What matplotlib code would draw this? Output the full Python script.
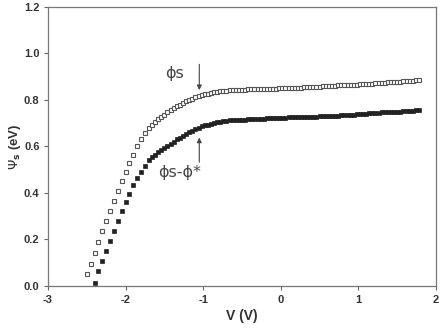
import matplotlib
matplotlib.use("Agg")
import matplotlib.pyplot as plt

# bias sweep, coarse part (V) and dense part (V)
v_low = [-2.50, -2.45, -2.40, -2.35, -2.30, -2.25, -2.20, -2.15, -2.10, -2.05,
         -2.00, -1.95, -1.90, -1.85, -1.80, -1.75]
v_high = [-1.70, -1.66, -1.62, -1.58, -1.54, -1.50, -1.46, -1.42, -1.38, -1.34,
          -1.30, -1.26, -1.22, -1.18, -1.14, -1.10, -1.06, -1.02, -0.98, -0.94,
          -0.90, -0.86, -0.82, -0.78, -0.74, -0.70, -0.66, -0.62, -0.58, -0.54,
          -0.50, -0.46, -0.42, -0.38, -0.34, -0.30, -0.26, -0.22, -0.18, -0.14,
          -0.10, -0.06, -0.02, 0.02, 0.06, 0.10, 0.14, 0.18, 0.22, 0.26,
          0.30, 0.34, 0.38, 0.42, 0.46, 0.50, 0.54, 0.58, 0.62, 0.66,
          0.70, 0.74, 0.78, 0.82, 0.86, 0.90, 0.94, 0.98, 1.02, 1.06,
          1.10, 1.14, 1.18, 1.22, 1.26, 1.30, 1.34, 1.38, 1.42, 1.46,
          1.50, 1.54, 1.58, 1.62, 1.66, 1.70, 1.74, 1.78]

# phi_s (open squares)
phis_low = [0.050, 0.095, 0.142, 0.189, 0.237, 0.280, 0.324, 0.366, 0.409, 0.450,
            0.490, 0.530, 0.563, 0.600, 0.632, 0.656]
phis_high = [0.680, 0.692, 0.704, 0.716, 0.727, 0.737, 0.746, 0.755, 0.764, 0.772,
             0.780, 0.787, 0.794, 0.800, 0.806, 0.811, 0.816, 0.820, 0.824, 0.827,
             0.830, 0.832, 0.835, 0.837, 0.839, 0.840, 0.841, 0.842, 0.842, 0.843,
             0.843, 0.844, 0.845, 0.846, 0.846, 0.846, 0.847, 0.847, 0.848, 0.848,
             0.849, 0.849, 0.850, 0.850, 0.850, 0.851, 0.852, 0.852, 0.853, 0.853,
             0.854, 0.855, 0.855, 0.856, 0.857, 0.857, 0.858, 0.859, 0.860, 0.860,
             0.861, 0.862, 0.862, 0.863, 0.864, 0.865, 0.866, 0.866, 0.867, 0.868,
             0.869, 0.869, 0.870, 0.871, 0.872, 0.873, 0.874, 0.875, 0.876, 0.877,
             0.878, 0.879, 0.880, 0.881, 0.882, 0.883, 0.884, 0.886]

# phi_s - phi* (filled squares), starts at -2.40 V
phid_low = [0.014, 0.062, 0.105, 0.152, 0.195, 0.238, 0.281, 0.324, 0.363, 0.397,
            0.436, 0.466, 0.492, 0.517]
phid_high = [0.540, 0.553, 0.564, 0.574, 0.584, 0.594, 0.603, 0.612, 0.621, 0.630,
             0.638, 0.646, 0.654, 0.661, 0.668, 0.674, 0.680, 0.686, 0.690, 0.694,
             0.698, 0.702, 0.705, 0.707, 0.709, 0.711, 0.712, 0.713, 0.713, 0.714,
             0.714, 0.715, 0.716, 0.717, 0.718, 0.719, 0.720, 0.720, 0.721, 0.722,
             0.722, 0.723, 0.723, 0.724, 0.724, 0.725, 0.726, 0.726, 0.727, 0.727,
             0.727, 0.728, 0.728, 0.728, 0.728, 0.729, 0.729, 0.729, 0.730, 0.730,
             0.731, 0.732, 0.733, 0.734, 0.735, 0.736, 0.737, 0.738, 0.739, 0.740,
             0.741, 0.742, 0.743, 0.744, 0.745, 0.746, 0.747, 0.747, 0.748, 0.749,
             0.750, 0.750, 0.751, 0.752, 0.753, 0.754, 0.755, 0.757]

v_open = v_low + v_high
y_open = phis_low + phis_high
v_fill = v_low[2:] + v_high
y_fill = phid_low + phid_high

plt.rcParams['font.family'] = ['Liberation Sans', 'DejaVu Sans']
plt.rcParams['axes.unicode_minus'] = False
txt = '#333333'
edge = '#555555'

fig = plt.figure(figsize=(4.44, 3.29), dpi=100)
ax = fig.add_axes([0.108, 0.131, 0.874, 0.848])

ax.plot(v_open, y_open, 's', ms=3.3, mfc='white', mec=edge, mew=0.8, ls='None')
ax.plot(v_fill, y_fill, 's', ms=3.3, mfc='#222222', mec='#222222', mew=0.5, ls='None')

# arrows and labels
ax.annotate('', xy=(-1.05, 0.830), xytext=(-1.05, 0.965),
            arrowprops=dict(arrowstyle='-|>', lw=0.8, color='#444444',
                            mutation_scale=7))
ax.annotate('', xy=(-1.05, 0.650), xytext=(-1.05, 0.520),
            arrowprops=dict(arrowstyle='-|>', lw=0.8, color='#444444',
                            mutation_scale=7))
ax.text(-1.37, 0.912, 'ϕs', fontsize=11.5, color='#444444', ha='center', va='center',
        family=['DejaVu Sans'])
ax.text(-1.30, 0.486, 'ϕs-ϕ*', fontsize=11.5, color='#444444', ha='center', va='center',
        family=['DejaVu Sans'])

ax.set_xlim(-3, 2)
ax.set_ylim(0, 1.2)
ax.set_xticks([-3, -2, -1, 0, 1, 2])
ax.set_yticks([0.0, 0.2, 0.4, 0.6, 0.8, 1.0, 1.2])
ax.set_yticklabels(['0.0', '0.2', '0.4', '0.6', '0.8', '1.0', '1.2'])
ax.tick_params(direction='out', length=3, width=0.8, color='#666666',
               labelsize=8, labelcolor=txt)
ax.tick_params(axis='y', pad=3)
for lab in ax.get_xticklabels() + ax.get_yticklabels():
    lab.set_fontweight('bold')
for s in ax.spines.values():
    s.set_color('#777777')
    s.set_linewidth(0.9)

ax.set_xlabel('V (V)', fontsize=10, fontweight='bold', color=txt, labelpad=3)
ax.set_ylabel(r'$\Psi_\mathbf{s}$ (eV)', fontsize=9.5, fontweight='bold', color=txt)
ax.yaxis.set_label_coords(-0.065, 0.5)

fig.savefig('out.png', dpi=100)
